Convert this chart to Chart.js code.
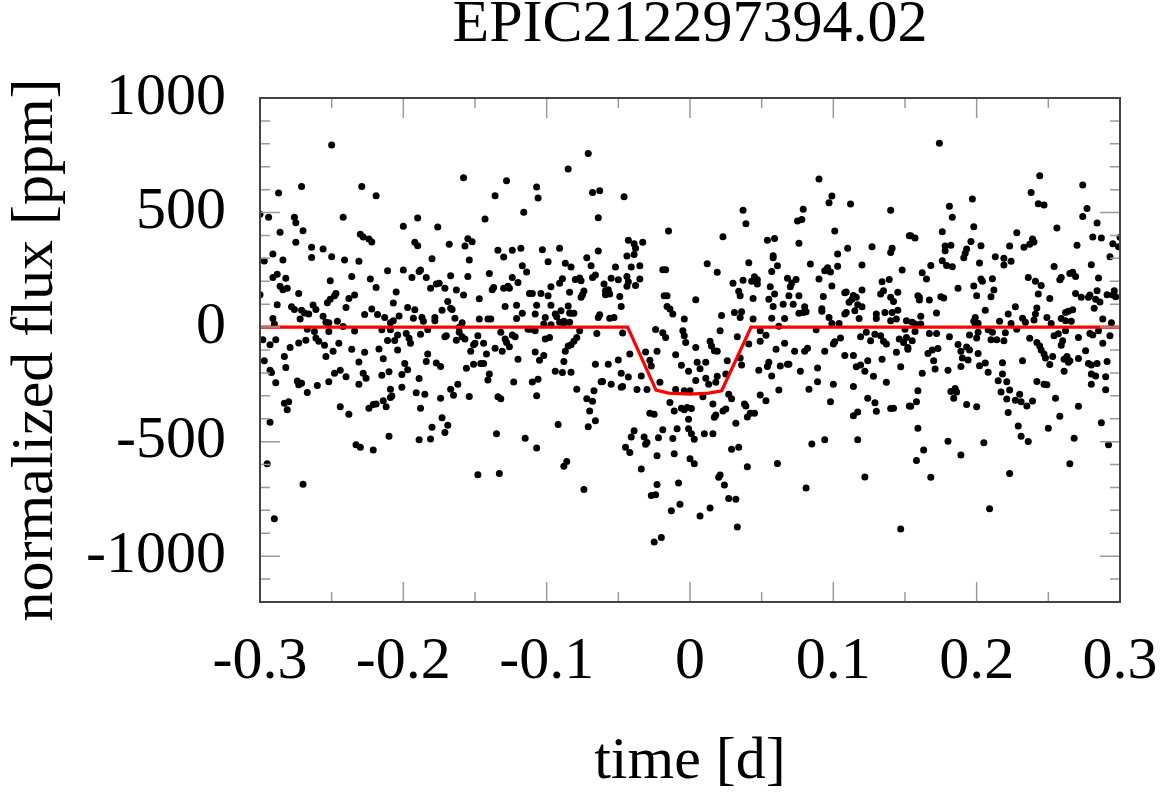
<!DOCTYPE html>
<html lang="en">
<head>
    <meta charset="UTF-8">
    <title>EPIC212297394.02</title>
    <style>
        body { margin: 0; background: #fff; }
        #wrap { width: 1165px; height: 792px; }
    </style>
</head>
<body>
    <div id="wrap"><canvas id="lc"></canvas></div>

    <script src="https://cdn.jsdelivr.net/npm/chart.js"></script>
    <script>
        // phase-folded light curve: [time (d), flux (ppm)]
        const fluxPoints = [
            [-0.250,795],[-0.158,652],[-0.287,585],[-0.271,614],[-0.229,614],[-0.219,573],[-0.300,493],[-0.294,479],[-0.276,480],[-0.275,455],[-0.242,479],[-0.200,440],[-0.190,476],[-0.176,437],[-0.286,414],[-0.270,421],[-0.230,405],[-0.228,393],[-0.224,384],[-0.222,371],[-0.275,370],[-0.192,370],[-0.190,355],[-0.168,362],[-0.155,386],[-0.152,372],[-0.157,354],[-0.291,319],[-0.264,348],[-0.256,341],[-0.297,288],[-0.284,293],[-0.264,304],[-0.250,307],[-0.241,293],[-0.231,287],[-0.180,298],[-0.154,293],
            [-0.071,758],[-0.085,690],[-0.128,639],[-0.136,573],[-0.107,611],[-0.106,563],[-0.068,587],[-0.063,595],[-0.046,569],[-0.143,472],[-0.116,501],[-0.064,477],[-0.015,419],[-0.134,335],[-0.130,306],[-0.124,335],[-0.118,344],[-0.103,338],[-0.099,285],[-0.091,344],[-0.087,279],[-0.083,262],[-0.117,268],[-0.072,303],[-0.069,268],[-0.064,332],[-0.052,262],[-0.043,379],[-0.039,364],[-0.038,344],[-0.033,370],[-0.044,310],[-0.039,317],[-0.041,262],[-0.035,268],
            [0.090,646],[0.099,572],[0.097,543],[0.112,537],[0.140,510],[0.037,510],[0.039,451],[0.079,514],[0.075,463],[0.078,470],[0.101,419],[0.153,399],[0.023,394],[0.054,379],[0.059,387],[0.076,366],[0.058,311],[0.058,303],[0.110,344],[0.103,319],[0.127,351],[0.140,326],[0.141,344],[0.012,276],[0.041,281],[0.061,268],[0.084,275],[0.096,259],[0.103,266],[0.120,271],
            [0.174,802],[0.244,661],[0.274,620],[0.238,587],[0.197,559],[0.181,528],[0.183,480],[0.243,538],[0.247,533],[0.277,518],[0.274,483],[0.284,454],[0.198,438],[0.256,432],[0.176,416],[0.228,412],[0.154,399],[0.157,389],[0.281,393],[0.287,389],[0.300,392],[0.295,364],[0.299,351],[0.196,374],[0.178,354],[0.182,357],[0.178,333],[0.193,341],[0.192,322],[0.191,303],[0.203,355],[0.223,354],[0.233,348],[0.237,362],[0.239,384],[0.240,371],[0.270,357],[0.293,307],[0.213,307],[0.219,301],[0.224,287],[0.176,290],[0.202,280],[0.168,269],[0.179,269],[0.183,263],[0.219,271],[0.254,265],[0.280,272],
            [-0.211,246],[-0.200,249],[-0.189,243],[-0.188,249],[-0.194,217],[-0.184,217],[-0.291,217],[-0.288,231],[-0.282,213],[-0.236,221],[-0.223,210],[-0.167,224],[-0.155,221],[-0.286,178],[-0.284,163],[-0.281,169],[-0.251,202],[-0.273,147],[-0.219,173],[-0.181,169],[-0.177,188],[-0.175,191],[-0.171,169],[-0.163,162],[-0.158,140],[-0.205,153],[-0.300,141],[-0.251,122],[-0.248,137],[-0.247,147],[-0.238,125],[-0.234,140],[-0.253,106],[-0.288,97],[-0.240,86],[-0.207,105],[-0.169,112],[-0.278,89],[-0.276,77],[-0.271,74],[-0.269,61],[-0.266,57],[-0.263,96],[-0.261,77],[-0.272,35],[-0.256,47],[-0.254,21],[-0.252,19],[-0.291,38],[-0.290,13],[-0.246,25],[-0.242,3],[-0.227,55],[-0.222,79],[-0.218,55],[-0.213,42],[-0.209,19],[-0.207,28],[-0.203,48],[-0.197,86],[-0.192,76],[-0.193,39],[-0.187,42],[-0.186,25],[-0.178,42],[-0.178,28],[-0.173,74],[-0.167,82],[-0.166,77],[-0.164,39],[-0.159,19],[-0.161,-1],
            [-0.267,-9],[-0.298,-55],[-0.293,-77],[-0.289,-55],[-0.279,-89],[-0.273,-69],[-0.268,-57],[-0.262,-19],[-0.261,-48],[-0.259,-62],[-0.255,-79],[-0.252,-19],[-0.245,-70],[-0.249,-105],[-0.234,-17],[-0.236,-97],[-0.215,-12],[-0.209,-12],[-0.211,-58],[-0.204,-34],[-0.206,-58],[-0.198,-28],[-0.196,-49],[-0.195,-70],[-0.188,-31],[-0.183,-12],[-0.171,-42],[-0.170,-38],[-0.163,-57],[-0.161,-23],[-0.159,-42],[-0.157,-52],[-0.151,-77],[-0.153,-106],[-0.297,-147],[-0.283,-128],[-0.282,-176],[-0.293,-188],[-0.292,-198],[-0.289,-243],[-0.274,-235],[-0.273,-252],[-0.271,-245],[-0.267,-285],[-0.260,-255],[-0.254,-128],[-0.252,-239],[-0.248,-201],[-0.244,-188],[-0.240,-217],[-0.231,-152],[-0.227,-110],[-0.228,-201],[-0.226,-223],[-0.231,-249],[-0.217,-96],[-0.214,-138],[-0.215,-210],[-0.210,-195],[-0.204,-100],[-0.201,-207],[-0.199,-159],[-0.197,-186],[-0.209,-271],[-0.201,-263],[-0.208,-301],[-0.209,-307],[-0.189,-224],[-0.191,-287],[-0.185,-293],[-0.184,-150],[-0.183,-118],[-0.177,-157],[-0.174,-172],[-0.162,-249],[-0.167,-271],[-0.165,-298],[-0.174,-311],[-0.156,-180],[-0.151,-162],[-0.154,-303],[-0.283,-332],[-0.280,-326],[-0.281,-361],[-0.293,-415],[-0.244,-348],[-0.238,-380],[-0.224,-354],[-0.221,-338],[-0.219,-336],[-0.214,-322],[-0.212,-348],[-0.188,-354],[-0.173,-396],[-0.169,-429],[-0.180,-437],[-0.171,-460],
            [-0.295,-597],[-0.290,-837],[-0.270,-686],[-0.233,-514],[-0.230,-524],[-0.221,-537],[-0.210,-476],[-0.189,-492],[-0.181,-488],
            [-0.135,-466],[-0.148,-645],[-0.133,-639],[-0.115,-485],[-0.107,-528],[-0.088,-607],[-0.086,-587],[-0.074,-709],[-0.041,-480],[-0.032,-480],[-0.022,-483],[-0.012,-486],[0.001,-466],[-0.045,-525],[-0.042,-547],[-0.031,-511],[-0.030,-504],[-0.023,-562],[-0.011,-553],[0.000,-575],[0.003,-597],[-0.034,-619],[-0.023,-687],[-0.027,-735],[-0.024,-732],[-0.008,-681],[-0.007,-773],[-0.013,-802],[-0.025,-938],[-0.020,-918],
            [0.003,-490],[0.010,-466],[0.016,-466],[0.029,-533],[0.034,-525],[0.040,-610],[0.020,-656],[0.021,-646],[0.024,-689],[0.027,-748],[0.032,-751],[0.014,-790],[0.007,-825],[0.033,-873],[0.061,-595],[0.081,-702],[0.085,-510],[0.094,-492],[0.117,-492],[0.122,-654],[0.147,-881],
            [0.158,-582],[0.163,-537],[0.168,-656],[0.180,-498],[0.189,-558],[0.205,-505],[0.209,-793],[0.223,-639],[0.231,-476],[0.236,-499],[0.265,-597],[0.268,-485],[0.292,-514],
            [-0.019,250],[-0.017,250],[-0.140,234],[-0.114,240],[-0.124,217],[-0.137,173],[-0.138,163],[-0.130,170],[-0.127,178],[-0.126,170],[-0.120,195],[-0.089,211],[-0.091,191],[-0.080,208],[-0.077,214],[-0.076,202],[-0.097,176],[-0.084,152],[-0.074,157],[-0.075,141],[-0.076,130],[-0.068,217],[-0.066,227],[-0.060,188],[-0.055,213],[-0.050,207],[-0.044,221],[-0.043,198],[-0.044,178],[-0.035,210],[-0.038,182],[-0.059,159],[-0.057,163],[-0.059,141],[-0.056,144],[-0.049,134],[-0.018,137],[-0.016,137],[-0.147,124],[-0.112,147],[-0.110,147],[-0.104,147],[-0.099,137],[-0.129,90],[-0.121,95],[-0.107,95],[-0.097,95],[-0.085,92],[-0.084,62],[-0.083,60],[-0.081,60],[-0.090,71],[-0.094,57],[-0.093,45],[-0.048,90],[-0.016,90],[-0.014,79],[-0.012,57],[-0.004,35],[-0.063,54],[-0.064,42],[-0.056,39],[-0.053,42],[-0.147,35],[-0.141,35],[-0.139,35],[-0.121,38],[-0.117,60],[-0.108,57],[-0.101,42],[-0.097,10],[-0.091,21],[-0.088,25],[-0.088,16],[-0.084,21],[-0.113,-9],[-0.111,-9],[-0.108,-16],[-0.102,13],
            [-0.148,-38],[-0.132,-23],[-0.129,-52],[-0.128,-67],[-0.124,-35],[-0.122,-42],[-0.101,-52],[-0.098,-45],[-0.077,-16],[-0.079,-45],[-0.081,-62],[-0.083,-77],[-0.065,-28],[-0.047,-26],[-0.150,-70],[-0.144,-71],[-0.136,-92],[-0.126,-86],[-0.131,-106],[-0.142,-118],[-0.146,-159],[-0.144,-159],[-0.120,-140],[-0.108,-109],[-0.102,-124],[-0.105,-145],[-0.085,-82],[-0.087,-106],[-0.088,-150],[-0.140,-205],[-0.141,-231],[-0.123,-240],[-0.110,-240],[-0.106,-228],[-0.094,-193],[-0.089,-198],[-0.083,-197],[-0.066,-162],[-0.057,-162],[-0.050,-144],[-0.042,-118],[-0.031,-109],[-0.028,-145],[-0.027,-170],[-0.023,-106],[-0.024,-10],[-0.019,-25],[-0.017,-45],[-0.010,-121],[-0.006,-167],[-0.005,-16],[-0.004,-38],[-0.003,-67],[-0.001,-193],[-0.034,-214],[-0.043,-218],[-0.048,-202],[-0.062,-239],[-0.061,-237],[-0.055,-249],[-0.048,-263],[-0.047,-259],[-0.037,-272],[-0.030,-272],[-0.021,-241],[-0.010,-272],[-0.004,-278],[0.000,-278],[-0.079,-271],[-0.067,-278],[-0.072,-313],[-0.068,-324],[-0.070,-366],[-0.066,-409],[-0.071,-435],[-0.092,-425],[-0.134,-304],[-0.132,-313],[-0.107,-300],[-0.014,-329],[-0.011,-366],[-0.006,-354],[-0.004,-361],[-0.002,-351],[-0.001,-402],[-0.028,-376],[-0.025,-380],[-0.009,-444],[-0.001,-444],[-0.019,-448],[-0.039,-453],
            [0.004,119],[0.019,239],[0.030,191],[0.037,205],[0.043,200],[0.045,220],[0.047,207],[0.047,188],[0.034,156],[0.035,137],[0.044,125],[0.057,243],[0.056,176],[0.055,122],[0.059,144],[0.058,90],[0.068,213],[0.071,192],[0.070,176],[0.074,208],[0.069,137],[0.076,137],[0.065,100],[0.072,100],[0.080,89],[0.076,60],[0.079,64],[0.081,67],[0.031,64],[0.036,67],[0.035,42],[0.044,35],[0.022,51],[0.057,39],[0.066,38],[0.062,4],[0.090,210],[0.094,246],[0.096,249],[0.098,241],[0.099,179],[0.093,134],[0.092,80],[0.092,69],[0.097,42],[0.099,16],[0.104,16],[0.108,150],[0.109,153],[0.114,138],[0.116,130],[0.120,162],[0.111,108],[0.113,122],[0.117,97],[0.120,89],[0.108,57],[0.109,64],[0.115,71],[0.118,38],[0.134,198],[0.139,208],[0.133,144],[0.135,159],[0.140,130],[0.142,112],[0.145,152],[0.130,57],[0.136,64],[0.130,38],[0.141,64],[0.145,74],[0.144,35],[0.140,28],[0.148,249],
            [0.021,-16],[0.033,-42],[0.049,-16],[0.053,-36],[0.049,-62],[0.041,-74],[0.004,-89],[0.014,-62],[0.015,-82],[0.017,-103],[0.019,-106],[0.066,-71],[0.060,-97],[0.073,-106],[0.080,-106],[0.082,-92],[0.088,-12],[0.094,-106],[0.100,-74],[0.101,-64],[0.105,-48],[0.119,-42],[0.123,-23],[0.129,-31],[0.126,-60],[0.133,-38],[0.135,-62],[0.137,-74],[0.146,-52],[0.149,-67],[0.152,-89],[0.144,-110],[0.108,-124],[0.114,-124],[0.124,-147],[0.134,-140],[0.116,-173],[0.119,-166],[0.122,-193],[0.128,-215],[0.137,-241],[0.147,-173],[0.005,-154],[0.007,-182],[0.011,-154],[0.004,-233],[0.011,-223],[0.013,-249],[0.018,-241],[0.019,-215],[0.026,-147],[0.025,-205],[0.035,-135],[0.036,-166],[0.048,-188],[0.054,-172],[0.055,-154],[0.057,-213],[0.063,-170],[0.068,-162],[0.069,-162],[0.077,-193],[0.089,-179],[0.089,-239],[0.083,-271],[0.100,-249],[0.114,-259],[0.062,-275],[0.049,-296],[0.053,-322],[0.027,-293],[0.029,-313],[0.009,-304],[0.016,-336],[0.018,-384],[0.017,-394],[0.001,-355],[0.023,-366],[0.025,-357],[0.038,-336],[0.039,-344],[0.042,-376],[0.040,-392],[0.045,-376],[0.032,-420],[0.098,-326],[0.124,-311],[0.129,-330],[0.130,-367],[0.117,-371],[0.114,-387],[0.140,-355],[0.142,-354],[0.153,-344],
            [0.162,237],[0.165,210],[0.159,137],[0.160,130],[0.160,118],[0.167,118],[0.175,132],[0.177,127],[0.172,62],[0.187,170],[0.198,179],[0.203,210],[0.204,200],[0.211,211],[0.212,162],[0.210,132],[0.200,137],[0.206,73],[0.161,47],[0.155,21],[0.151,28],[0.157,13],[0.161,13],[0.150,-9],[0.157,-19],[0.199,42],[0.198,25],[0.201,17],[0.199,13],[0.216,25],[0.222,57],[0.224,16],[0.228,-9],[0.227,89],[0.236,217],[0.241,200],[0.245,182],[0.243,144],[0.242,83],[0.241,57],[0.240,31],[0.232,39],[0.234,21],[0.251,125],[0.249,42],[0.252,16],[0.258,207],[0.259,217],[0.265,234],[0.267,239],[0.269,221],[0.269,147],[0.273,130],[0.278,130],[0.279,140],[0.285,214],[0.284,159],[0.283,122],[0.282,82],[0.286,110],[0.291,141],[0.295,140],[0.296,159],[0.297,132],[0.259,38],[0.262,64],[0.264,69],[0.267,76],[0.262,28],[0.266,25],[0.288,35],[0.294,19],
            [0.151,-45],[0.155,-60],[0.152,-97],[0.167,-28],[0.172,-28],[0.181,-42],[0.195,-35],[0.200,-48],[0.201,-23],[0.208,-12],[0.211,-23],[0.210,-55],[0.214,-55],[0.219,-60],[0.220,-25],[0.237,-49],[0.242,-67],[0.244,-82],[0.245,-100],[0.247,-118],[0.248,-135],[0.254,-38],[0.257,-29],[0.260,-60],[0.259,-79],[0.262,-16],[0.271,-45],[0.279,-28],[0.281,-35],[0.285,-16],[0.293,-38],[0.288,-70],[0.276,-103],[0.271,-137],[0.166,-115],[0.169,-100],[0.173,-93],[0.187,-76],[0.189,-106],[0.190,-135],[0.193,-87],[0.195,-100],[0.194,-144],[0.201,-115],[0.170,-147],[0.171,-183],[0.189,-172],[0.180,-188],[0.202,-169],[0.206,-157],[0.208,-197],[0.218,-156],[0.218,-205],[0.232,-147],[0.251,-163],[0.253,-128],[0.261,-140],[0.263,-128],[0.264,-154],[0.265,-147],[0.261,-193],[0.278,-159],[0.280,-166],[0.284,-159],[0.291,-150],[0.162,-202],[0.280,-205],[0.283,-213],[0.290,-217],[0.215,-234],[0.221,-239],[0.242,-237],[0.247,-249],[0.249,-252],[0.280,-249],[0.182,-281],[0.185,-268],[0.186,-283],[0.184,-311],[0.159,-278],[0.217,-283],[0.223,-275],[0.221,-314],[0.227,-319],[0.230,-293],[0.231,-326],[0.235,-344],[0.239,-323],[0.255,-311],[0.290,-274],[0.158,-326],[0.154,-346],[0.193,-338],[0.200,-348],[0.222,-373],[0.258,-389],[0.271,-345],[0.287,-418],[0.159,-442],[0.229,-432],[0.250,-442]
        ];

        // transit model (red curve)
        const modelTime = [-0.3, -0.0435, -0.0237, -0.015, 0.0, 0.013, 0.0221, 0.0426, 0.3];
        const modelFlux = [0, 0, -275, -288, -293, -288, -278, 0, 0];

        // axis ticks
        const xTickValues = [-0.3, -0.2, -0.1, 0, 0.1, 0.2, 0.3];
        const xMinorTicks = [-0.25, -0.15, -0.05, 0.05, 0.15, 0.25];
        const yTickValues = [-1000, -500, 0, 500, 1000];
        const yMinorTicks = [-1200, -1100, -900, -800, -700, -600, -400, -300, -200, -100,
                             100, 200, 300, 400, 600, 700, 800, 900];

        const serif = "'Liberation Serif', 'DejaVu Serif', serif";

        // frame box plus inward tick marks like the original plot
        const frameTicks = {
            id: 'frameTicks',
            afterDraw(chart) {
                const { ctx, chartArea: a, scales: { x, y } } = chart;
                ctx.save();
                ctx.strokeStyle = '#9a9a9a';
                ctx.lineWidth = 1.5;
                const vTick = (v, len) => {
                    const px = x.getPixelForValue(v);
                    ctx.beginPath();
                    ctx.moveTo(px, a.bottom); ctx.lineTo(px, a.bottom - len);
                    ctx.moveTo(px, a.top); ctx.lineTo(px, a.top + len);
                    ctx.stroke();
                };
                const hTick = (v, len) => {
                    const py = y.getPixelForValue(v);
                    ctx.beginPath();
                    ctx.moveTo(a.left, py); ctx.lineTo(a.left + len, py);
                    ctx.moveTo(a.right, py); ctx.lineTo(a.right - len, py);
                    ctx.stroke();
                };
                xTickValues.forEach(v => vTick(v, 20));
                xMinorTicks.forEach(v => vTick(v, 10));
                yTickValues.forEach(v => hTick(v, 20));
                yMinorTicks.forEach(v => hTick(v, 10));
                ctx.strokeStyle = '#444';
                ctx.lineWidth = 2;
                ctx.strokeRect(a.left, a.top, a.right - a.left, a.bottom - a.top);
                ctx.restore();
            }
        };

        new Chart(document.getElementById('lc'), {
            type: 'scatter',
            data: {
                datasets: [
                    {
                        type: 'line',
                        label: 'model',
                        data: modelTime.map((t, i) => ({ x: t, y: modelFlux[i] })),
                        borderColor: '#ff0000',
                        borderWidth: 3.2,
                        pointRadius: 0,
                        tension: 0,
                        order: 0
                    },
                    {
                        label: 'data',
                        data: fluxPoints.map(p => ({ x: p[0], y: p[1] })),
                        backgroundColor: '#000',
                        borderWidth: 0,
                        pointRadius: 3.5,
                        order: 1
                    }
                ]
            },
            options: {
                responsive: true,
                maintainAspectRatio: false,
                animation: false,
                layout: { padding: { left: 0, right: 45, top: 0, bottom: 0 } },
                plugins: {
                    legend: { display: false },
                    tooltip: { enabled: false },
                    title: {
                        display: true,
                        text: 'EPIC212297394.02',
                        fullSize: false,
                        color: '#000',
                        font: { family: serif, size: 60, weight: 'normal', lineHeight: 0.85 },
                        padding: { top: 0, bottom: 47 }
                    }
                },
                scales: {
                    x: {
                        type: 'linear',
                        min: -0.3,
                        max: 0.3,
                        afterBuildTicks: s => { s.ticks = xTickValues.map(v => ({ value: v })); },
                        afterFit: s => { s.height = 190; s.paddingLeft = 0; s.paddingRight = 0; },
                        grid: { display: false, drawTicks: false },
                        border: { display: false },
                        ticks: {
                            color: '#000',
                            padding: 24,
                            maxRotation: 0,
                            font: { family: serif, size: 60 },
                            callback: v => String(Math.round(v * 10) / 10)
                        },
                        title: {
                            display: true,
                            text: 'time [d]',
                            color: '#000',
                            font: { family: serif, size: 60, lineHeight: 1 },
                            padding: 0
                        }
                    },
                    y: {
                        type: 'linear',
                        min: -1200,
                        max: 1000,
                        afterBuildTicks: s => { s.ticks = yTickValues.map(v => ({ value: v })); },
                        afterFit: s => { s.width = 260; s.paddingTop = 0; s.paddingBottom = 0; },
                        grid: { display: false, drawTicks: false },
                        border: { display: false },
                        ticks: {
                            color: '#000',
                            padding: 34,
                            font: { family: serif, size: 60 },
                            callback: v => String(v)
                        },
                        title: {
                            display: true,
                            text: 'normalized flux [ppm]',
                            color: '#000',
                            font: { family: serif, size: 60, lineHeight: 1.2 },
                            padding: 0
                        }
                    }
                }
            },
            plugins: [frameTicks]
        });
    </script>
</body>
</html>
